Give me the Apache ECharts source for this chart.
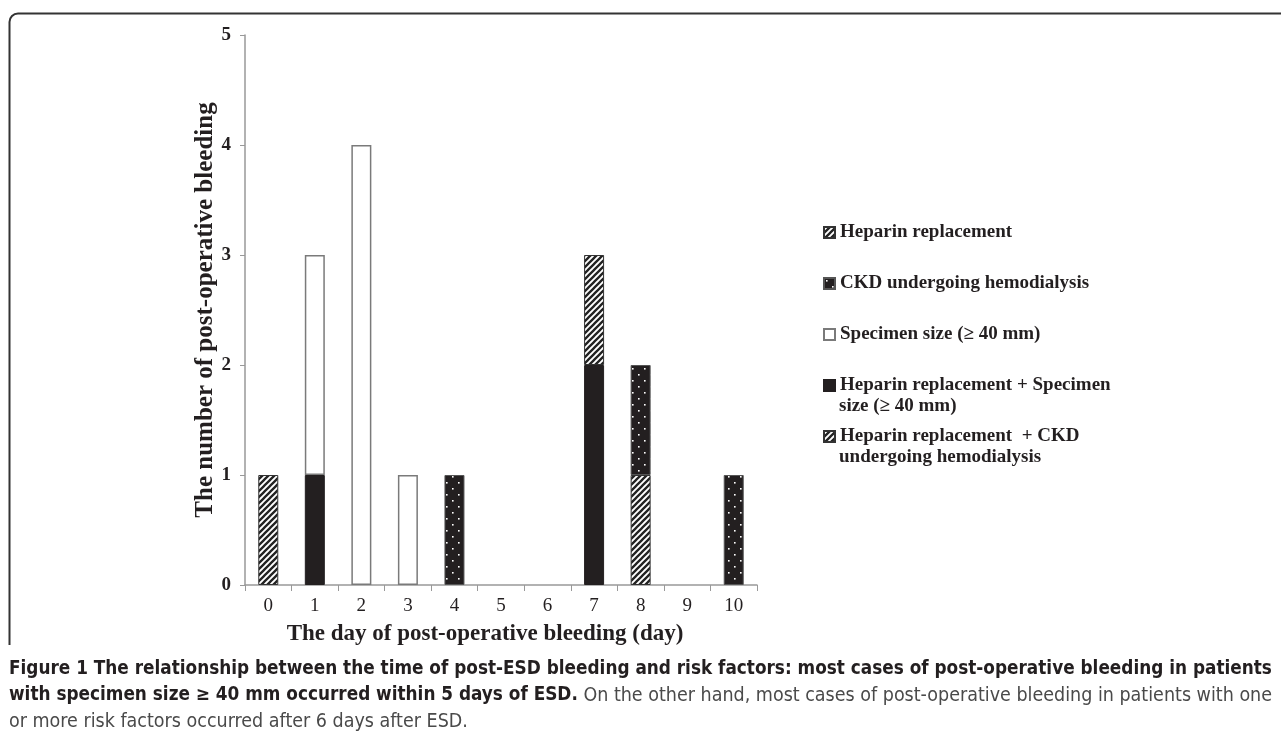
<!DOCTYPE html>
<html><head><meta charset="utf-8">
<script src="https://cdn.jsdelivr.net/npm/echarts@6/dist/echarts.min.js"></script>
<style>html,body{margin:0;padding:0;background:#fff}#c{width:1281px;height:740px}</style>
</head><body><div id="c"></div>
<script>
const days = ['0','1','2','3','4','5','6','7','8','9','10'];
const yTicks = [0,1,2,3,4,5];
const heparinCkd = [0,0,0,0,0,0,0,0,1,0,0];
const heparinSpecimen = [0,1,0,0,0,0,0,2,0,0,0];
const specimen = [0,2,4,1,0,0,0,0,0,0,0];
const ckd = [0,0,0,0,1,0,0,0,1,0,1];
const heparin = [1,0,0,0,0,0,0,1,0,0,0];
const names = ['Heparin replacement + CKD undergoing hemodialysis','Heparin replacement + Specimen size (≥ 40 mm)','Specimen size (≥ 40 mm)','CKD undergoing hemodialysis','Heparin replacement'];

function hatch(){
  const c=document.createElement('canvas');c.width=6;c.height=6;const g=c.getContext('2d');
  g.fillStyle='#fff';g.fillRect(0,0,6,6);g.strokeStyle='#222';g.lineWidth=2.3;
  g.beginPath();g.moveTo(-1,7);g.lineTo(7,-1);g.moveTo(-4,4);g.lineTo(4,-4);g.moveTo(2,10);g.lineTo(10,2);g.stroke();return c;
}
function dots(){
  const c=document.createElement('canvas');c.width=12;c.height=12;const g=c.getContext('2d');
  g.fillStyle='#231f20';g.fillRect(0,0,12,12);g.fillStyle='#fff';
  g.fillRect(2,2,1.6,1.6);g.fillRect(8,8,1.6,1.6);return c;
}
const hatchPat={image:hatch(),repeat:'repeat'};
const dotPat={image:dots(),repeat:'repeat'};
const styles=[
  {color:hatchPat,borderColor:'#333',borderWidth:1},
  {color:'#231f20',borderColor:'#231f20',borderWidth:1},
  {color:'#fff',borderColor:'#7a7a7a',borderWidth:1.5},
  {color:dotPat,borderColor:'#555',borderWidth:1},
  {color:hatchPat,borderColor:'#333',borderWidth:1}
];
const values=[heparinCkd,heparinSpecimen,specimen,ckd,heparin];
const series=values.map((arr,i)=>({
  name:names[i],type:'bar',stack:'a',barWidth:20,
  data:arr.map(v=>v===0?null:v),itemStyle:styles[i],emphasis:{disabled:true}
}));

const serif='"Liberation Serif","Times New Roman",serif';
const legendTops=[218,269,320,371,422];
const legendOrder=[4,3,2,1,0];
const legendLabels=['Heparin replacement','CKD undergoing hemodialysis','Specimen size (≥ 40 mm)','Heparin replacement + Specimen','Heparin replacement  + CKD'];
const legendSecond=['','','','size (≥ 40 mm)','undergoing hemodialysis'];
const legends=legendOrder.map((si,k)=>({
  left:818,top:legendTops[k],orient:'vertical',itemWidth:11,itemHeight:11,itemGap:0,
  icon:'rect',selectedMode:false,
  data:[{name:names[si]}],
  formatter:()=>legendLabels[k],
  textStyle:{fontFamily:serif,fontWeight:'bold',fontSize:19,color:'#231f20'}
}));

const chart=echarts.init(document.getElementById('c'),null,{renderer:'canvas'});
chart.setOption({
  animation:false,
  backgroundColor:'#fff',
  grid:{left:245,top:35,width:512,height:550,containLabel:false},
  legend:legends,
  xAxis:{type:'category',data:days,
    axisLine:{lineStyle:{color:'#999',width:1.5}},
    axisTick:{show:true,length:6,lineStyle:{color:'#999'}},
    axisLabel:{fontFamily:serif,fontSize:19,color:'#231f20',margin:12},
    name:'The day of post-operative bleeding (day)',nameLocation:'middle',nameGap:38,
    nameTextStyle:{fontFamily:serif,fontWeight:'bold',fontSize:23,color:'#231f20',padding:[0,32,0,0]}
  },
  yAxis:{type:'value',min:yTicks[0],max:yTicks[yTicks.length-1],interval:1,
    splitLine:{show:false},
    axisLine:{show:true,lineStyle:{color:'#999',width:1.5}},
    axisTick:{show:true,length:5,lineStyle:{color:'#999'}},
    axisLabel:{fontFamily:serif,fontSize:19,fontWeight:'bold',color:'#231f20',margin:14},
    name:'The number of post-operative bleeding',nameLocation:'middle',nameGap:24,nameRotate:90,
    nameTextStyle:{fontFamily:serif,fontWeight:'bold',fontSize:25,color:'#231f20'}
  },
  series:series,
  graphic:[
    {type:'text',left:839,top:397,style:{text:legendSecond[3],font:'bold 19px '+serif,fill:'#231f20'}},
    {type:'text',left:839,top:448,style:{text:legendSecond[4],font:'bold 19px '+serif,fill:'#231f20'}},
    {type:'line',shape:{x1:9.5,y1:645,x2:9.5,y2:22},style:{stroke:'#333',lineWidth:2}},
    {type:'arc',shape:{cx:18,cy:22,r:8.5,startAngle:Math.PI,endAngle:Math.PI*1.5},style:{fill:null,stroke:'#333',lineWidth:2}},
    {type:'line',shape:{x1:18,y1:13.5,x2:1281,y2:13.5},style:{stroke:'#333',lineWidth:2}},
    {type:'text',left:9,top:660,style:{
      text:'{b|Figure 1 The relationship between the time of post-ESD bleeding and risk factors: most cases of post-operative bleeding in patients}\n{b|with specimen size ≥ 40 mm occurred within 5 days of ESD.}{n| On the other hand, most cases of post-operative bleeding in patients with one}\n{n|or more risk factors occurred after 6 days after ESD.}',
      rich:{
        b:{fontFamily:'"DejaVu Sans Condensed","Liberation Sans Narrow",sans-serif',fontWeight:'bold',fontSize:18.8,fill:'#231f20',lineHeight:26},
        n:{fontFamily:'"DejaVu Sans Condensed","Liberation Sans Narrow",sans-serif',fontSize:19.5,fill:'#4a4a4a',lineHeight:26}
      }}}
  ]
});
</script></body></html>
